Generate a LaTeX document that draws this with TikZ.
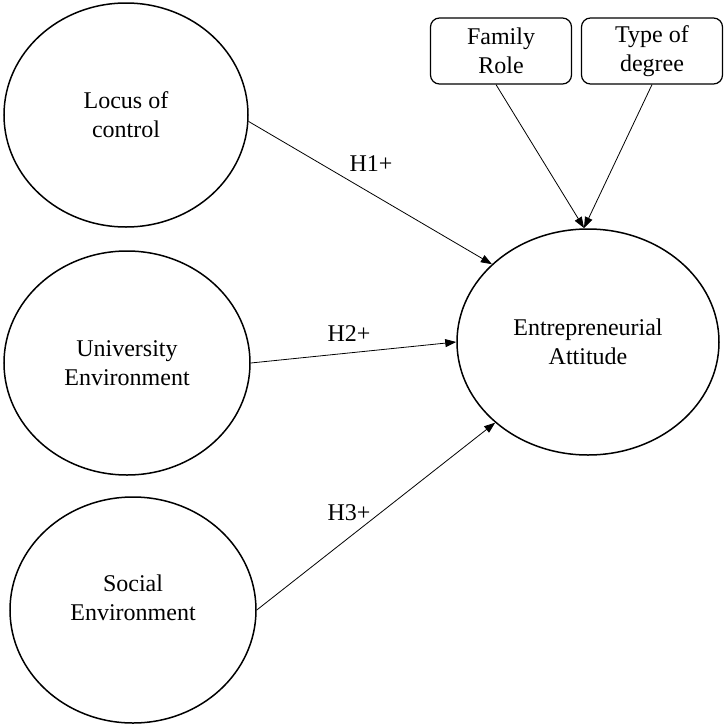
\documentclass[tikz,border=0pt]{standalone}
\usepackage{fontspec}
\setmainfont{Liberation Serif}
\usetikzlibrary{shapes.geometric,arrows.meta}
\tikzset{
  construct/.style={draw, line width=1.5pt, ellipse, inner sep=0pt, align=center,
    font=\fontsize{24}{29}\selectfont},
  ctrlbox/.style={draw, line width=1.2pt, rounded corners=9pt, inner sep=0pt,
    minimum width=141pt, minimum height=66pt, align=center,
    font=\fontsize{24}{29}\selectfont},
  hyp/.style={font=\fontsize{24}{29}\selectfont, inner sep=0pt},
  link/.style={line width=0.8pt, -{Triangle[length=11pt,width=8pt]}}
}
\begin{document}
\begin{tikzpicture}[x=1pt,y=-1pt]
\useasboundingbox (0,0) rectangle (725,726);
\node[construct, minimum width=244pt, minimum height=224pt] (loc) at (126,115) {Locus of\\control};
\node[construct, minimum width=246pt, minimum height=224pt] (uni) at (127,363) {University\\Environment};
\node[construct, minimum width=246pt, minimum height=226pt] (soc) at (133,610) {};
\node[align=center, inner sep=0pt, font=\fontsize{24}{29}\selectfont] (soctext) at (133,598) {Social\\Environment};
\node[construct, minimum width=262pt, minimum height=226pt] (ent) at (588,342) {Entrepreneurial\\Attitude};
\node[ctrlbox] (fam) at (501,51) {Family\\Role};
\node[ctrlbox] (deg) at (652,51) {Type of\\degree};
\coordinate (meet) at (584,228);
\draw[link] (loc.-3) -- (ent.141.7);
\draw[link] (uni.0) -- (ent.180.5);
\draw[link] (soc.0) -- (ent.221.4);
\draw[link] ([xshift=-5pt]fam.south) -- (meet);
\draw[link] (deg.south) -- (meet);
\node[hyp] (h1) at (371,164) {H1+};
\node[hyp] (h2) at (349,334) {H2+};
\node[hyp] (h3) at (349,513) {H3+};
\end{tikzpicture}
\end{document}
